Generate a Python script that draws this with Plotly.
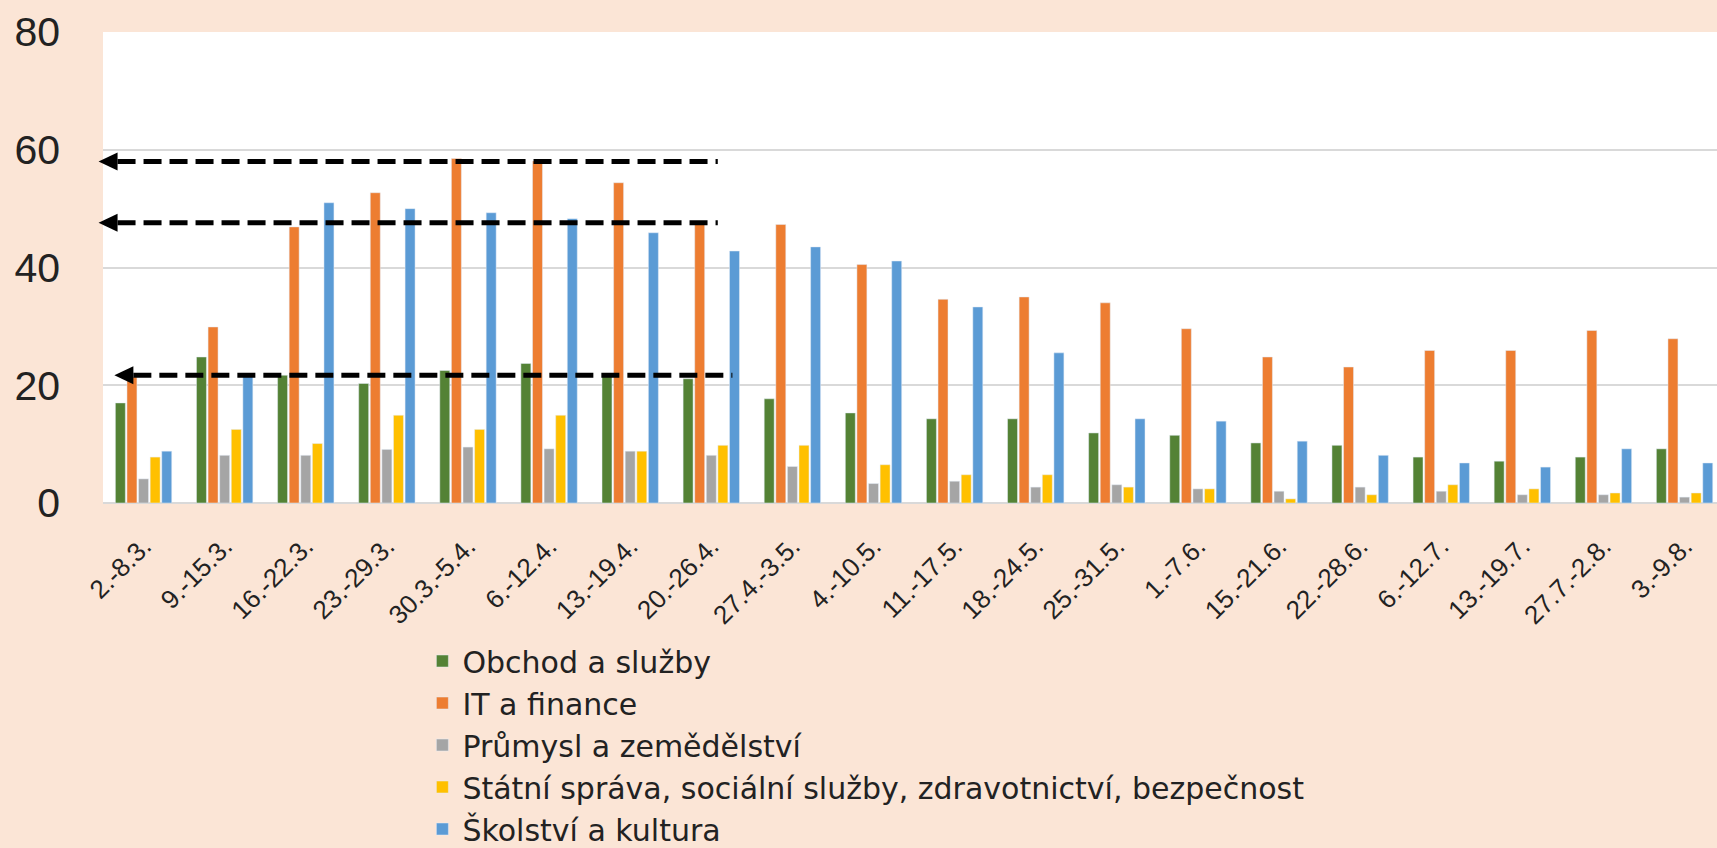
import plotly.graph_objects as go

weeks = ["2.-8.3.", "9.-15.3.", "16.-22.3.", "23.-29.3.", "30.3.-5.4.", "6.-12.4.",
         "13.-19.4.", "20.-26.4.", "27.4.-3.5.", "4.-10.5.", "11.-17.5.", "18.-24.5.",
         "25.-31.5.", "1.-7.6.", "15.-21.6.", "22.-28.6.", "6.-12.7.", "13.-19.7.",
         "27.7.-2.8.", "3.-9.8."]

obchod = [17.0, 24.8, 21.7, 20.3, 22.5, 23.7, 22.0, 21.1, 17.7, 15.3,
          14.3, 14.3, 11.9, 11.5, 10.2, 9.8, 7.8, 7.1, 7.8, 9.2]
it_finance = [21.4, 29.9, 46.9, 52.7, 58.5, 58.1, 54.4, 47.6, 47.3, 40.5,
              34.6, 35.0, 34.0, 29.6, 24.8, 23.1, 25.9, 25.9, 29.3, 27.9]
prumysl = [4.1, 8.1, 8.1, 9.1, 9.5, 9.2, 8.8, 8.1, 6.2, 3.3,
           3.7, 2.7, 3.1, 2.4, 2.0, 2.7, 2.0, 1.4, 1.4, 1.0]
statni = [7.8, 12.5, 10.1, 14.9, 12.5, 14.9, 8.8, 9.8, 9.8, 6.5,
          4.8, 4.8, 2.7, 2.4, 0.7, 1.4, 3.1, 2.4, 1.7, 1.7]
skolstvi = [8.8, 22.0, 51.0, 50.0, 49.3, 48.3, 45.9, 42.8, 43.5, 41.1,
            33.3, 25.5, 14.3, 13.9, 10.5, 8.1, 6.8, 6.1, 9.2, 6.8]

series_names = ["Obchod a služby", "IT a finance", "Průmysl a zemědělství",
                "Státní správa, sociální služby, zdravotnictví, bezpečnost",
                "Školství a kultura"]
series_values = [obchod, it_finance, prumysl, statni, skolstvi]
colors = ["#548235", "#ED7D31", "#A5A5A5", "#FFC000", "#5B9BD5"]

# dashed reference arrows: level, tip (category units), tail (category units)
arrow_levels = [58.0, 47.6, 21.7]
arrow_tips = [-0.555, -0.555, -0.36]
arrow_tails = [7.08, 7.08, 7.26]

X_RANGE = [-0.5, 19.4]
W, H = 1717, 848
M_L, M_R, M_T, M_B = 103, 0, 32, 345
plot_w = W - M_L - M_R
plot_h = H - M_T - M_B


def cat_to_paper(c):
    return (c - X_RANGE[0]) / (X_RANGE[1] - X_RANGE[0])


fig = go.Figure()
for name, vals, col in zip(series_names, series_values, colors):
    fig.add_trace(go.Bar(x=weeks, y=vals, name=name, marker_color=col))

shapes = []
head_len = 19 / plot_w
head_half = 9 / (plot_h / 80)
for lvl, tip, tail in zip(arrow_levels, arrow_tips, arrow_tails):
    xt = cat_to_paper(tip)
    xb = xt + head_len
    shapes.append(dict(type="line", xref="paper", yref="y", x0=xb, x1=cat_to_paper(tail),
                       y0=lvl, y1=lvl, line=dict(color="black", width=5, dash="18px,8px")))
    shapes.append(dict(type="path", xref="paper", yref="y",
                       path=f"M {xt},{lvl} L {xb},{lvl + head_half} L {xb},{lvl - head_half} Z",
                       fillcolor="black", line=dict(width=0)))

fig.update_layout(
    width=W, height=H,
    margin=dict(l=M_L, r=M_R, t=M_T, b=M_B, autoexpand=False),
    paper_bgcolor="#FBE5D6",
    plot_bgcolor="white",
    barmode="group",
    bargap=0.285,
    bargroupgap=0.14,
    font=dict(family="Liberation Sans, Arial, sans-serif", color="#222222"),
    shapes=shapes,
    legend=dict(xref="container", yref="container", x=0.246, xanchor="left",
                y=1 - 635 / H, yanchor="top",
                font=dict(size=30, family="DejaVu Sans, sans-serif"),
                bgcolor="rgba(0,0,0,0)", traceorder="normal"),
)
fig.update_xaxes(range=X_RANGE, tickangle=-45, tickfont=dict(size=26),
                 showgrid=False, showline=False, ticks="", ticklabelstandoff=22)
fig.update_yaxes(range=[0, 80], dtick=20, tickfont=dict(size=41),
                 gridcolor="#D9D9D9", gridwidth=1.5, zeroline=True,
                 zerolinecolor="#D9D9D9", zerolinewidth=1.5,
                 ticklabelstandoff=42, showline=False)

fig.write_html("out.html", config={"displayModeBar": False},
               post_script="document.body.style.margin='0';")
